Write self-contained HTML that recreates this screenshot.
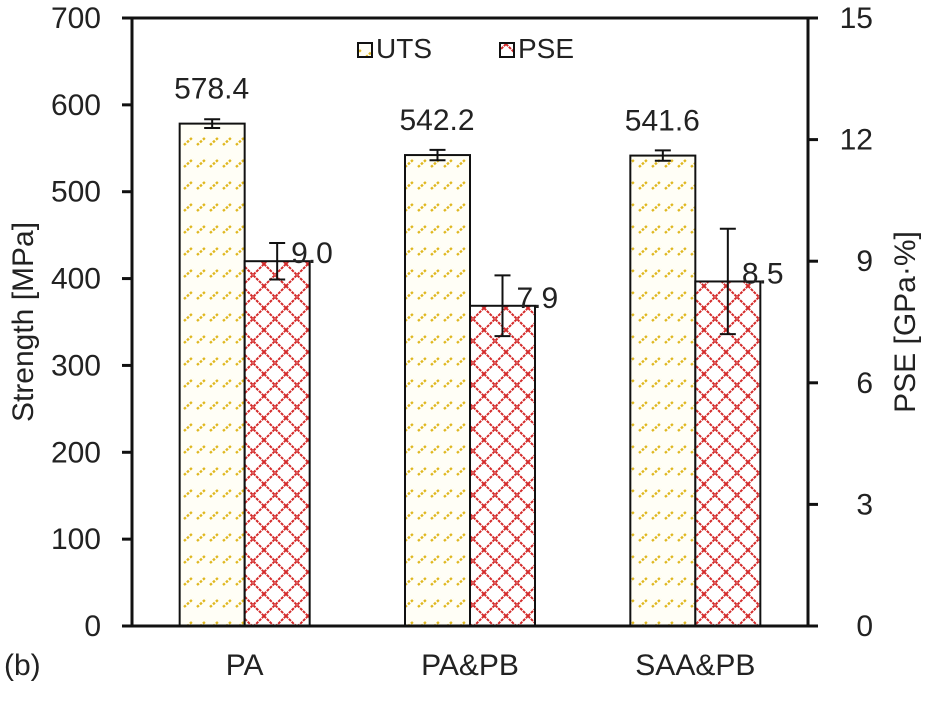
<!DOCTYPE html>
<html><head><meta charset="utf-8"><style>
body{margin:0;background:#fff;}
svg text{font-family:"Liberation Sans",Arial,sans-serif;fill:#222;}
</style></head><body>
<svg id="chart" width="925" height="698" viewBox="0 0 925 698" xmlns="http://www.w3.org/2000/svg">
<defs>
<pattern id="pUTS" patternUnits="userSpaceOnUse" width="13" height="22">
<rect width="13" height="22" fill="#fffef6"/>
<path d="M2 13 L11 5" stroke="#e0b820" stroke-width="2.4" stroke-dasharray="2.5,1.5"/>
</pattern>
<pattern id="pPSE" patternUnits="userSpaceOnUse" width="22" height="22">
<rect width="22" height="22" fill="#fff"/>
<path d="M0 0 L22 22 M22 0 L0 22" stroke="#d42a2a" stroke-width="2" stroke-dasharray="3,1"/>
</pattern>
</defs>
<g id="plot"></g>
</svg>
<script>
const categories=["PA","PA&PB","SAA&PB"];
const utsValues=[578.4,542.2,541.6];
const utsErr=[5,6,6];
const pseValues=[9.0,7.9,8.5];
const pseErr=[0.45,0.75,1.3];
const leftTicks=[0,100,200,300,400,500,600,700];
const rightTicks=[0,3,6,9,12,15];

const NS="http://www.w3.org/2000/svg";
const g=document.getElementById('plot');
const X0=132,X1=808,Y0=626,Y1=18;
const FS=30;
const yL=v=>Y0-(v/700)*(Y0-Y1);
const yR=v=>Y0-(v/15)*(Y0-Y1);
const cx=i=>X0+(i+0.5)*(X1-X0)/categories.length;
function mk(tag,attrs,txt){const e=document.createElementNS(NS,tag);for(const k in attrs)e.setAttribute(k,attrs[k]);if(txt!==undefined)e.textContent=txt;g.appendChild(e);return e;}

categories.forEach((c,i)=>{
 const c0=cx(i);
 let r=mk('rect',{x:c0-65,y:yL(utsValues[i]),width:65,height:Y0-yL(utsValues[i]),fill:'url(#pUTS)',stroke:'#111','stroke-width':2});
 
 
 r=mk('rect',{x:c0,y:yR(pseValues[i]),width:65,height:Y0-yR(pseValues[i]),fill:'url(#pPSE)',stroke:'#111','stroke-width':2});
 
 
 const ux=c0-32.5, ua=yL(utsValues[i]+utsErr[i]), ub=yL(utsValues[i]-utsErr[i]);
 let e=mk('path',{d:`M${ux} ${ua}V${ub}M${ux-8} ${ua}H${ux+8}M${ux-8} ${ub}H${ux+8}`,stroke:'#111','stroke-width':2,fill:'none'});
 
 
 const px=c0+32.5, pa=yR(pseValues[i]+pseErr[i]), pb=yR(pseValues[i]-pseErr[i]);
 e=mk('path',{d:`M${px} ${pa}V${pb}M${px-8} ${pa}H${px+8}M${px-8} ${pb}H${px+8}`,stroke:'#111','stroke-width':2,fill:'none'});
 
 
 let t=mk('text',{x:c0-33,y:yL(utsValues[i])-25,'font-size':FS,'text-anchor':'middle'},utsValues[i].toFixed(1));
 
 
 t=mk('text',{x:px+14,y:yR(pseValues[i])+2,'font-size':FS},pseValues[i].toFixed(1));
 
 
 t=mk('text',{x:c0,y:675,'font-size':FS,'text-anchor':'middle'},c);
 
 
});
let a=mk('path',{d:`M${X0} ${Y1}V${Y0}H${X1}V${Y1}H${X0}`,stroke:'#111','stroke-width':3,fill:'none'});


leftTicks.forEach(v=>{
 const y=yL(v);
 let l=mk('path',{d:`M${X0-10} ${y}H${X0}`,stroke:'#111','stroke-width':3});
 
 
 let t=mk('text',{x:101,y:y+10,'font-size':FS,'text-anchor':'end'},v);
 
 
});
rightTicks.forEach(v=>{
 const y=yR(v);
 let l=mk('path',{d:`M${X1} ${y}H${X1+10}`,stroke:'#111','stroke-width':3});
 
 
 let t=mk('text',{x:873,y:y+10,'font-size':FS,'text-anchor':'end'},v);
 
 
});
let t=mk('text',{x:0,y:0,'font-size':FS,'text-anchor':'middle',transform:`translate(33 ${(Y0+Y1)/2}) rotate(-90)`},'Strength [MPa]');


t=mk('text',{x:0,y:0,'font-size':FS,'text-anchor':'middle',transform:`translate(915 ${(Y0+Y1)/2}) rotate(-90)`},'PSE [GPa·%]');


t=mk('text',{x:4,y:675,'font-size':FS},'(b)');


let r=mk('rect',{x:358,y:43,width:14,height:14,fill:'url(#pUTS)',stroke:'#111','stroke-width':2});


t=mk('text',{x:376,y:58,'font-size':28},'UTS');


r=mk('rect',{x:500,y:43,width:14,height:14,fill:'url(#pPSE)',stroke:'#111','stroke-width':2});


t=mk('text',{x:518,y:58,'font-size':28},'PSE');


</script>
</body></html>
